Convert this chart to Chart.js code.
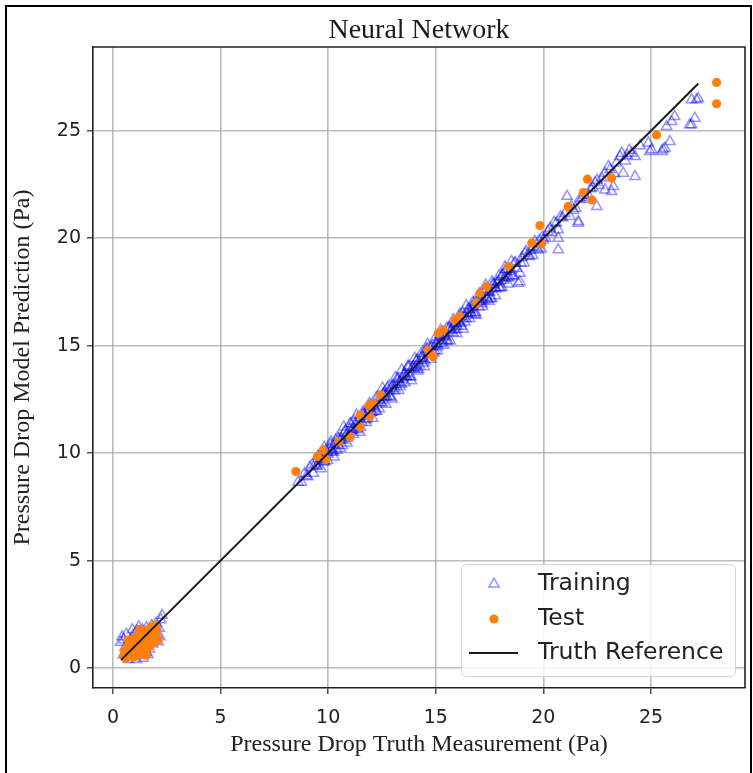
<!DOCTYPE html>
<html>
<head>
<meta charset="utf-8">
<script src="https://cdn.jsdelivr.net/npm/chart.js@4/dist/chart.umd.min.js"></script>
<style>
  html, body { margin: 0; padding: 0; background: #fff; }
  canvas { display: block; }
</style>
</head>
<body>
<canvas id="chart" width="753" height="773"></canvas>
<script>
// Training samples: measured pressure drop (truth) vs. network prediction, in Pa
const trainLowX = [0.35, 0.42, 0.50, 0.55, 0.48, 0.62, 0.65, 0.72, 0.78, 0.82, 0.88, 0.92, 0.98, 1.02, 1.08, 1.10, 1.12, 1.18, 1.22, 1.25, 1.30, 1.32, 1.36, 1.40, 1.45, 1.50, 1.55, 1.56, 1.60, 1.66, 1.70, 1.75, 1.80, 1.85, 1.90, 1.95, 2.00, 2.05, 2.10, 2.15, 2.22, 2.28, 1.20, 0.90, 2.18, 1.62];
const trainLowY = [1.20, 1.45, 1.32, 0.95, 0.62, 1.58, 0.52, 0.40, 0.88, 1.25, 0.55, 1.50, 0.72, 1.10, 0.40, 1.72, 0.95, 1.30, 0.58, 1.55, 0.85, 1.18, 1.78, 0.45, 1.05, 1.45, 0.72, 1.88, 1.20, 1.62, 0.88, 1.40, 1.98, 1.12, 1.72, 1.32, 2.08, 1.55, 1.22, 1.85, 2.25, 2.45, 1.92, 1.78, 1.45, 0.62];

const trainMidX = [8.60, 8.75, 8.90, 9.00, 9.15, 9.31, 9.40, 9.50, 9.60, 9.70, 9.80, 9.90, 10.00, 10.10, 10.20, 10.30, 10.40, 10.50, 10.60, 10.70, 10.80, 10.90, 11.00, 11.10, 11.20, 11.30, 11.40, 11.50, 11.60, 11.70, 11.80, 11.90, 12.00, 12.10, 12.20, 12.30, 12.40, 12.50, 12.60, 12.70, 12.80, 12.90, 13.00, 13.10, 13.20, 13.30, 13.40, 13.50, 13.60, 13.70, 13.80, 13.90, 14.00, 14.10, 14.20, 14.30, 14.40, 14.50, 14.60, 14.70, 14.80, 14.90];
const trainMidY = [8.65, 8.65, 9.05, 8.95, 9.35, 9.06, 9.50, 9.40, 9.85, 9.70, 9.60, 10.05, 9.95, 10.40, 10.05, 10.40, 10.15, 10.70, 10.65, 10.60, 11.05, 10.70, 11.10, 11.05, 11.50, 11.15, 11.45, 11.20, 11.80, 11.70, 11.60, 12.15, 11.90, 12.20, 11.95, 12.60, 12.45, 12.35, 12.80, 12.65, 12.90, 12.60, 13.15, 13.00, 13.45, 13.30, 13.20, 13.60, 13.55, 14.00, 13.55, 13.95, 13.90, 14.30, 13.90, 14.40, 14.40, 14.30, 14.85, 14.65, 14.95, 14.65];

const trainFillX = [9.05, 9.25, 9.45, 9.65, 9.85, 10.05, 10.15, 10.25, 10.35, 10.45, 10.55, 10.65, 10.75, 10.85, 10.95, 11.05, 11.15, 11.25, 11.35, 11.45, 11.55, 11.65, 11.75, 11.85, 11.95, 12.05, 12.15, 12.25, 12.35, 12.45, 12.55, 12.65, 12.75, 12.85, 12.95, 13.05, 13.15, 13.25, 13.35, 13.45, 13.55, 13.65, 13.75, 13.85, 13.95, 14.05, 14.15, 14.25, 14.35, 14.45, 14.55, 14.65, 14.75, 14.85, 14.95, 15.05, 15.15, 15.25, 15.35, 15.45, 15.55, 15.65, 15.75, 15.85, 15.95, 16.05, 16.15, 16.25, 16.35, 16.45, 16.55, 16.65, 16.75, 16.85, 16.95, 17.05, 17.15, 17.25, 17.35, 17.45, 17.55, 17.65, 17.75, 17.85, 17.95, 18.05, 18.15, 18.25, 18.35, 18.45, 18.55, 18.65, 18.75, 18.95, 19.15, 19.35, 19.55, 19.75, 19.95];
const trainFillY = [8.90, 9.45, 9.40, 9.75, 9.60, 10.20, 10.15, 10.05, 10.60, 10.35, 10.60, 10.35, 10.95, 10.85, 10.80, 11.35, 11.10, 11.35, 11.10, 11.65, 11.45, 11.80, 11.55, 11.90, 12.20, 11.90, 12.15, 11.95, 12.50, 12.35, 12.75, 12.60, 13.05, 12.65, 13.05, 12.90, 13.20, 13.45, 13.10, 13.45, 13.70, 13.55, 14.00, 13.55, 14.00, 14.00, 14.35, 14.10, 14.45, 14.20, 14.85, 14.65, 14.65, 15.00, 14.75, 15.10, 15.40, 15.10, 15.45, 15.40, 15.25, 15.85, 15.75, 16.00, 15.75, 16.15, 16.05, 16.55, 16.10, 16.50, 16.70, 16.50, 16.95, 16.55, 17.05, 17.05, 16.95, 17.50, 17.25, 17.50, 17.20, 17.85, 17.70, 17.95, 17.70, 18.20, 18.05, 18.55, 18.15, 18.45, 18.25, 18.85, 18.60, 18.85, 19.30, 19.15, 19.60, 19.45, 20.05];

const trainEdgeX = [9.52, 9.67, 9.82, 9.97, 10.12, 10.27, 10.42, 10.57, 10.72, 10.87, 11.02, 11.17, 11.32, 11.47, 11.62, 11.77, 11.92, 12.07, 12.22, 12.37, 12.52, 12.67, 12.82, 12.97, 13.12, 13.27, 13.42, 13.57, 13.72, 13.87, 14.02, 14.17, 14.32, 14.47, 14.62, 14.77, 14.92, 15.07, 15.22, 15.37, 15.52, 15.67, 15.82, 15.97, 16.12, 16.27, 16.42, 16.57, 16.72, 16.87, 17.02, 17.17, 17.32, 17.47, 17.62, 17.77, 17.92, 18.07, 18.22, 18.37, 18.52];
const trainEdgeY = [9.87, 9.27, 10.27, 9.67, 10.52, 9.82, 10.72, 10.22, 11.22, 10.47, 11.37, 10.87, 11.77, 10.97, 11.92, 11.42, 12.32, 11.62, 12.57, 12.07, 13.02, 12.27, 13.12, 12.52, 13.52, 12.92, 13.87, 13.27, 14.07, 13.37, 14.42, 13.82, 14.62, 14.02, 15.07, 14.37, 15.27, 14.77, 15.72, 15.02, 15.82, 15.22, 16.22, 15.57, 16.47, 15.77, 16.87, 16.27, 17.02, 16.42, 17.42, 16.82, 17.82, 17.07, 17.97, 17.32, 18.22, 17.72, 18.67, 17.87, 18.92];

const trainUpX = [15.00, 15.10, 15.20, 15.30, 15.40, 15.50, 15.60, 15.70, 15.80, 15.90, 16.00, 16.10, 16.20, 16.30, 16.40, 16.50, 16.60, 16.70, 16.80, 16.90, 17.00, 17.10, 17.20, 17.30, 17.40, 17.50, 17.60, 17.70, 17.80, 17.90, 18.00, 18.10, 18.20, 18.30, 18.40, 18.50, 18.60, 18.70, 18.83, 18.91, 18.91, 19.00, 19.10, 19.20, 19.30, 19.40, 19.50, 19.60, 19.70, 19.80, 19.90, 20.00];
const trainUpY = [15.05, 14.95, 15.50, 15.25, 15.50, 15.20, 15.80, 15.70, 15.60, 16.05, 15.90, 16.35, 15.90, 16.35, 16.25, 16.70, 16.55, 16.80, 16.45, 17.05, 16.80, 17.15, 17.10, 17.60, 17.15, 17.50, 17.20, 17.85, 17.65, 18.00, 17.70, 18.30, 18.15, 18.55, 18.20, 18.55, 18.25, 18.85, 17.91, 17.98, 18.37, 19.10, 18.85, 19.40, 19.20, 19.45, 19.20, 19.85, 19.55, 19.90, 19.50, 19.93];

const trainTopX = [20.10, 20.20, 20.31, 20.40, 20.50, 20.60, 20.69, 20.69, 20.69, 20.80, 20.90, 21.00, 21.10, 21.24, 21.30, 21.40, 21.50, 21.62, 21.62, 21.70, 21.80, 21.90, 22.00, 22.10, 22.20, 22.30, 22.40, 22.48, 22.50, 22.60, 22.71, 22.86, 22.86, 23.02, 23.10, 23.17, 23.25, 23.30, 23.40, 23.56, 23.64, 23.71, 23.80, 23.90, 24.00, 24.10, 24.26, 24.26, 24.50, 24.88, 24.95, 25.03, 25.50, 25.57, 25.65, 25.73, 25.88, 25.96, 26.10, 26.80, 26.89, 27.04, 26.89, 27.12, 27.20];
const trainTopY = [20.00, 20.30, 20.47, 20.25, 20.75, 20.70, 20.39, 19.46, 20.00, 21.00, 20.95, 21.15, 21.95, 21.01, 21.50, 21.30, 21.40, 20.70, 20.78, 21.85, 21.90, 22.00, 21.80, 22.00, 22.30, 22.35, 22.60, 21.48, 22.70, 22.45, 22.80, 23.03, 22.25, 23.34, 23.20, 22.17, 22.41, 23.00, 23.50, 23.80, 23.96, 23.03, 23.60, 23.85, 24.10, 23.96, 23.80, 22.87, 24.30, 24.43, 24.04, 24.12, 24.04, 24.12, 24.19, 25.20, 24.50, 25.43, 25.66, 25.28, 25.28, 25.59, 26.44, 26.44, 26.50];

// Held-out test samples
const testLowX = [0.50, 0.55, 0.60, 0.70, 0.75, 0.80, 0.85, 0.90, 0.95, 1.00, 1.00, 1.10, 1.10, 1.15, 1.20, 1.25, 1.30, 1.35, 1.40, 1.45, 1.50, 1.55, 1.60, 1.65, 1.70, 1.75, 1.80, 1.85, 1.90, 1.95, 2.00, 2.05, 2.10, 1.25, 0.70, 1.55];
const testLowY = [0.55, 0.80, 0.45, 0.95, 0.60, 1.25, 0.75, 1.05, 0.50, 1.40, 0.85, 1.10, 0.60, 1.55, 0.90, 1.30, 0.65, 1.65, 1.05, 1.40, 0.80, 1.75, 1.15, 1.50, 1.00, 1.90, 1.35, 1.65, 1.20, 2.00, 1.55, 1.80, 1.30, 1.80, 1.30, 0.60];

const testHighX = [8.50, 9.50, 9.77, 9.90, 10.50, 11.01, 11.48, 11.48, 11.94, 11.90, 12.10, 12.45, 14.65, 14.81, 14.88, 15.12, 15.35, 15.89, 16.12, 16.90, 17.05, 17.37, 18.40, 19.46, 19.84, 19.92, 21.16, 21.86, 22.05, 22.26, 23.17, 25.26, 28.05, 28.05];
const testHighY = [9.14, 9.84, 10.15, 9.72, 10.54, 10.77, 11.23, 11.78, 11.70, 12.20, 12.32, 12.71, 14.80, 14.57, 14.49, 15.58, 15.74, 16.20, 16.35, 16.98, 17.44, 17.75, 18.68, 19.78, 20.59, 19.74, 21.48, 22.13, 22.75, 21.78, 22.80, 24.81, 27.25, 26.26];

// Ideal prediction = truth, spanning the training range
const refX = [0.38, 27.20];
const refY = [0.38, 27.20];

const xTicks = [0, 5, 10, 15, 20, 25];
const yTicks = [0, 5, 10, 15, 20, 25];

const toPoints = (xs, ys) => xs.map((x, i) => ({ x: x, y: ys[i] }));

const trainPoints = [].concat(
  toPoints(trainLowX, trainLowY),
  toPoints(trainMidX, trainMidY),
  toPoints(trainFillX, trainFillY),
  toPoints(trainEdgeX, trainEdgeY),
  toPoints(trainUpX, trainUpY),
  toPoints(trainTopX, trainTopY)
);
const testPoints = [].concat(toPoints(testLowX, testLowY), toPoints(testHighX, testHighY));

const TEXT = '#222222';
const SERIF = '"Liberation Serif", "Times New Roman", serif';
const SANS = '"DejaVu Sans", sans-serif';

function drawTriangle(ctx, x, y, r) {
  ctx.beginPath();
  for (let k = 0; k < 3; k++) {
    const a = k * 2 * Math.PI / 3;
    const px = x + Math.sin(a) * r, py = y - Math.cos(a) * r;
    if (k === 0) ctx.moveTo(px, py); else ctx.lineTo(px, py);
  }
  ctx.closePath();
}

// Frame, title and in-plot legend
const decorations = {
  id: 'decorations',
  afterDatasetsDraw(chart) {
    const ctx = chart.ctx;
    const a = chart.chartArea;
    ctx.save();
    // top and right spines of the plot box
    ctx.strokeStyle = '#222';
    ctx.lineWidth = 1.6;
    ctx.beginPath();
    ctx.moveTo(a.left, a.top);
    ctx.lineTo(a.right, a.top);
    ctx.lineTo(a.right, a.bottom);
    ctx.stroke();

    // legend box
    const lx = 461.5, ly = 564.5, lw = 274, lh = 112;
    ctx.fillStyle = 'rgba(255,255,255,0.8)';
    ctx.strokeStyle = '#d4d4d4';
    ctx.lineWidth = 1;
    ctx.beginPath();
    ctx.roundRect(lx, ly, lw, lh, 5);
    ctx.fill();
    ctx.stroke();

    drawTriangle(ctx, 494, 584, 6);
    ctx.strokeStyle = 'rgba(0,0,255,0.42)';
    ctx.lineWidth = 1.5;
    ctx.stroke();

    ctx.fillStyle = '#ff7f0e';
    ctx.beginPath();
    ctx.arc(494, 619, 4.6, 0, Math.PI * 2);
    ctx.fill();

    ctx.strokeStyle = '#1a1a1a';
    ctx.lineWidth = 2;
    ctx.beginPath();
    ctx.moveTo(469, 653);
    ctx.lineTo(518, 653);
    ctx.stroke();

    ctx.fillStyle = TEXT;
    ctx.font = '23.5px ' + SANS;
    ctx.textAlign = 'left';
    ctx.textBaseline = 'middle';
    ctx.fillText('Training', 538, 584);
    ctx.fillText('Test', 538, 619);
    ctx.fillText('Truth Reference', 538, 653);

    // title
    ctx.font = '28px ' + SERIF;
    ctx.textAlign = 'center';
    ctx.fillStyle = '#1a1a1a';
    ctx.fillText('Neural Network', (a.left + a.right) / 2, 31);

    // outer border of the figure
    ctx.strokeStyle = '#000';
    ctx.lineWidth = 2;
    ctx.beginPath();
    ctx.moveTo(6, 790);
    ctx.lineTo(6, 6);
    ctx.lineTo(751, 6);
    ctx.lineTo(751, 790);
    ctx.stroke();
    ctx.restore();
  }
};

new Chart(document.getElementById('chart'), {
  type: 'scatter',
  data: {
    datasets: [
      {
        label: 'Truth Reference',
        data: toPoints(refX, refY),
        showLine: true,
        borderColor: '#1a1a1a',
        borderWidth: 2,
        pointRadius: 0,
        order: 0
      },
      {
        label: 'Test',
        data: testPoints,
        pointStyle: 'circle',
        pointRadius: 4.6,
        pointBackgroundColor: '#ff7f0e',
        pointBorderColor: '#ff7f0e',
        pointBorderWidth: 0,
        order: 1
      },
      {
        label: 'Training',
        data: trainPoints,
        pointStyle: 'triangle',
        pointRadius: 6,
        pointBackgroundColor: 'rgba(0,0,0,0)',
        pointBorderColor: 'rgba(0,0,255,0.42)',
        pointBorderWidth: 1.5,
        order: 2
      }
    ]
  },
  options: {
    responsive: false,
    animation: false,
    devicePixelRatio: 1,
    layout: { padding: { top: 47, right: 8, left: 0, bottom: 0 } },
    plugins: {
      legend: { display: false },
      title: { display: false },
      tooltip: { enabled: false }
    },
    scales: {
      x: {
        type: 'linear',
        min: -0.93,
        max: 29.37,
        afterBuildTicks(scale) { scale.ticks = xTicks.map(v => ({ value: v })); },
        afterFit(scale) { scale.height = 85; },
        ticks: { color: TEXT, font: { family: SANS, size: 19 }, padding: 13 },
        grid: { color: 'rgba(165,165,165,0.75)', lineWidth: 1.6, tickLength: 6, tickColor: '#333', tickWidth: 1.3 },
        border: { color: '#222', width: 1.6 },
        title: {
          display: true,
          text: 'Pressure Drop Truth Measurement (Pa)',
          color: TEXT,
          font: { family: SERIF, size: 24 },
          padding: { top: 0, bottom: 14 }
        }
      },
      y: {
        type: 'linear',
        min: -0.93,
        max: 28.9,
        afterBuildTicks(scale) { scale.ticks = yTicks.map(v => ({ value: v })); },
        afterFit(scale) { scale.width = 93; },
        ticks: { color: TEXT, font: { family: SANS, size: 19 }, padding: 6 },
        grid: { color: 'rgba(165,165,165,0.75)', lineWidth: 1.6, tickLength: 6, tickColor: '#333', tickWidth: 1.3 },
        border: { color: '#222', width: 1.6 },
        title: {
          display: true,
          text: 'Pressure Drop Model Prediction (Pa)',
          color: TEXT,
          font: { family: SERIF, size: 24 },
          padding: { top: 8, bottom: 0 }
        }
      }
    }
  },
  plugins: [decorations]
});
</script>
</body>
</html>
